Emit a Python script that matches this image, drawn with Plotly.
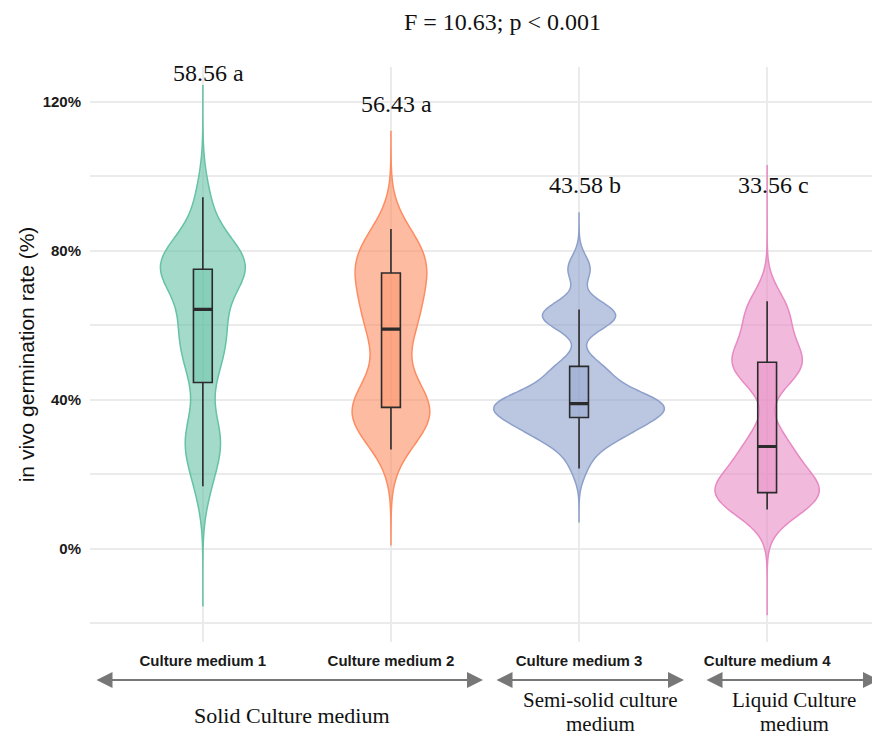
import plotly.graph_objects as go

# ---------------- data ----------------
categories = ["Culture medium 1", "Culture medium 2", "Culture medium 3", "Culture medium 4"]

medium1 = [16.7, 24, 28, 30, 33, 44.6, 50, 53, 56, 59, 62, 64.2,
           72, 74, 75, 75, 76, 76, 77, 78, 80, 86, 94.3]
medium2 = [26.6, 31, 34, 35, 36, 37, 38, 40, 43, 47, 55, 58.9,
           61, 64, 66, 70, 73, 74, 76, 78, 80, 82, 85.8]
medium3 = [21.5, 26, 28.5, 30, 30.5, 31.5, 32, 33, 33.5, 34.5, 35.5, 36, 36.5,
           37, 37.5, 38, 38, 38.5, 39, 39, 39.5, 40, 40.5, 41.5, 42.5, 44,
           46, 47.5, 48.5, 49, 60.5, 61.5, 62, 62.5, 63.2, 63.8, 64.2, 74.7, 75.5]
medium4 = [10.5, 12, 13, 14, 15, 15, 16, 17, 19, 22, 25, 27.4,
           29.5, 46, 48, 49, 50, 51, 53, 58, 62, 64, 66.4]
samples = [medium1, medium2, medium3, medium4]

# box-plot statistics
q1 = [44.6, 37.9, 35.2, 15.0]
medians = [64.2, 58.9, 38.9, 27.4]
q3 = [75.0, 74.0, 48.9, 50.0]
lower_whisker = [16.7, 26.6, 21.5, 10.5]
upper_whisker = [94.3, 85.8, 64.2, 66.4]

# density extent of each violin
span_low = [-15.6, 1.0, 7.0, -17.9]
span_high = [124.5, 112.0, 90.3, 103.0]

# group means and significance letters
means = [58.56, 56.43, 43.58, 33.56]
letters = ["a", "a", "b", "c"]

# group captions (one list entry per caption line)
group_lines = [["Solid Culture medium"],
               ["Semi-solid culture", "medium"],
               ["Liquid Culture", "medium"]]

# ---------------- styling ----------------
line_colors = ["#66c2a5", "#fc8d62", "#8da0cb", "#e78ac3"]
fill_rgb = ["102,194,165", "252,141,98", "141,160,203", "231,138,195"]
bandwidths = [7, 7, 3.5, 5.5]
violin_widths = [0.45, 0.41, 0.904, 0.553]
box_width = 0.10
label_y = [127.7, 119.4, 97.6, 97.6]

# page offset (browser body margin) and plot-area geometry in window pixels
OFF = 8
PLOT_L, PLOT_R, PLOT_T, PLOT_B = 90, 880, 67, 642
W, H = 880 - OFF, 736 - OFF


def px_x(x):  # window pixel -> paper x
    return (x - PLOT_L) / (PLOT_R - PLOT_L)


def px_y(y):  # window pixel -> paper y
    return (PLOT_B - y) / (PLOT_B - PLOT_T)


SANS = "Liberation Sans, Arial, sans-serif"
SERIF = "Liberation Serif, Times New Roman, serif"
GRID = "#ebebeb"

fig = go.Figure()

for i, vals in enumerate(samples):
    fig.add_trace(go.Violin(
        y=vals, x=[i] * len(vals),
        spanmode="manual", span=[span_low[i], span_high[i]],
        bandwidth=bandwidths[i],
        scalemode="width", width=violin_widths[i],
        points=False, box_visible=False, meanline_visible=False,
        fillcolor=f"rgba({fill_rgb[i]},0.6)",
        line=dict(color=line_colors[i], width=1.5),
        showlegend=False, hoverinfo="skip",
    ))

for i in range(len(categories)):
    fig.add_trace(go.Box(
        x=[i], q1=[q1[i]], median=[medians[i]], q3=[q3[i]],
        lowerfence=[lower_whisker[i]], upperfence=[upper_whisker[i]],
        width=box_width, whiskerwidth=0,
        fillcolor=f"rgba({fill_rgb[i]},0.45)",
        line=dict(color="#2b2b2b", width=1.6),
        boxpoints=False, showlegend=False, hoverinfo="skip",
    ))
    # thicker median bar
    fig.add_trace(go.Box(
        x=[i], q1=[medians[i]], median=[medians[i]], q3=[medians[i]],
        lowerfence=[medians[i]], upperfence=[medians[i]],
        width=box_width, whiskerwidth=0,
        fillcolor="rgba(0,0,0,0)",
        line=dict(color="#2b2b2b", width=3.2),
        boxpoints=False, showlegend=False, hoverinfo="skip",
    ))

# mean + letter labels
for i in range(len(categories)):
    fig.add_annotation(
        x=i, y=label_y[i], xref="x", yref="y",
        text=f"{means[i]:.2f} {letters[i]}", showarrow=False,
        xshift=6, font=dict(family=SERIF, size=24, color="#111111"),
    )

# group arrows beneath the axis (window pixels: start, end)
arrow_px = [(95, 483), (495, 684), (705, 879)]
arrow_row = 680
for (a, b) in arrow_px:
    fig.add_annotation(
        x=px_x(b), y=px_y(arrow_row), xref="paper", yref="paper",
        ax=-(b - a), ay=0, axref="pixel", ayref="pixel",
        showarrow=True, arrowhead=2, arrowside="end+start",
        arrowsize=1.6, arrowwidth=2, arrowcolor="#777777", text="",
    )

group_px = [291.5, 600, 794]
single_row = 715.5
two_rows = [700, 724.3]
for gx, lines in zip(group_px, group_lines):
    rows = [single_row] if len(lines) == 1 else two_rows
    size = 22 if len(lines) == 1 else 21
    for row, txt in zip(rows, lines):
        fig.add_annotation(
            x=px_x(gx), y=px_y(row), xref="paper", yref="paper",
            text=txt, showarrow=False,
            font=dict(family=SERIF, size=size, color="#111111"),
            xanchor="center", yanchor="middle", align="center",
        )

fig.update_layout(
    width=W, height=H,
    margin=dict(l=PLOT_L - OFF, r=0, t=PLOT_T - OFF, b=H - (PLOT_B - OFF), autoexpand=False),
    plot_bgcolor="white", paper_bgcolor="white",
    violinmode="overlay", boxmode="overlay", showlegend=False,
    title=dict(text="F = 10.63; p < 0.001", x=px_x(502.5), xref="paper",
               y=1 - (22 - OFF) / H, yref="container", yanchor="middle", xanchor="center",
               font=dict(family=SERIF, size=24, color="#111111")),
    font=dict(family=SANS, color="#1a1a1a"),
)
fig.update_xaxes(
    range=[-0.6, 3.6], tickmode="array", tickvals=list(range(len(categories))),
    ticktext=categories, showgrid=True, gridcolor=GRID, gridwidth=1.5,
    zeroline=False, showline=False, ticks="", automargin=False, ticklabelstandoff=8,
    tickfont=dict(family=SANS, size=15, weight="bold", color="#1a1a1a"),
)
fig.update_yaxes(
    range=[-25.1, 129.3], tick0=0, dtick=40, ticksuffix="%",
    showgrid=True, gridcolor=GRID, gridwidth=1.5,
    minor=dict(dtick=20, tick0=0, showgrid=True, gridcolor=GRID, gridwidth=1.5),
    zeroline=False, showline=False, ticks="", automargin=False, ticklabelstandoff=8,
    tickfont=dict(family=SANS, size=15, weight="bold", color="#1a1a1a"),
    title=dict(text="in vivo germination rate (%)", standoff=2,
               font=dict(family=SANS, size=21, color="#111111")),
)

fig.write_html("out.html")
